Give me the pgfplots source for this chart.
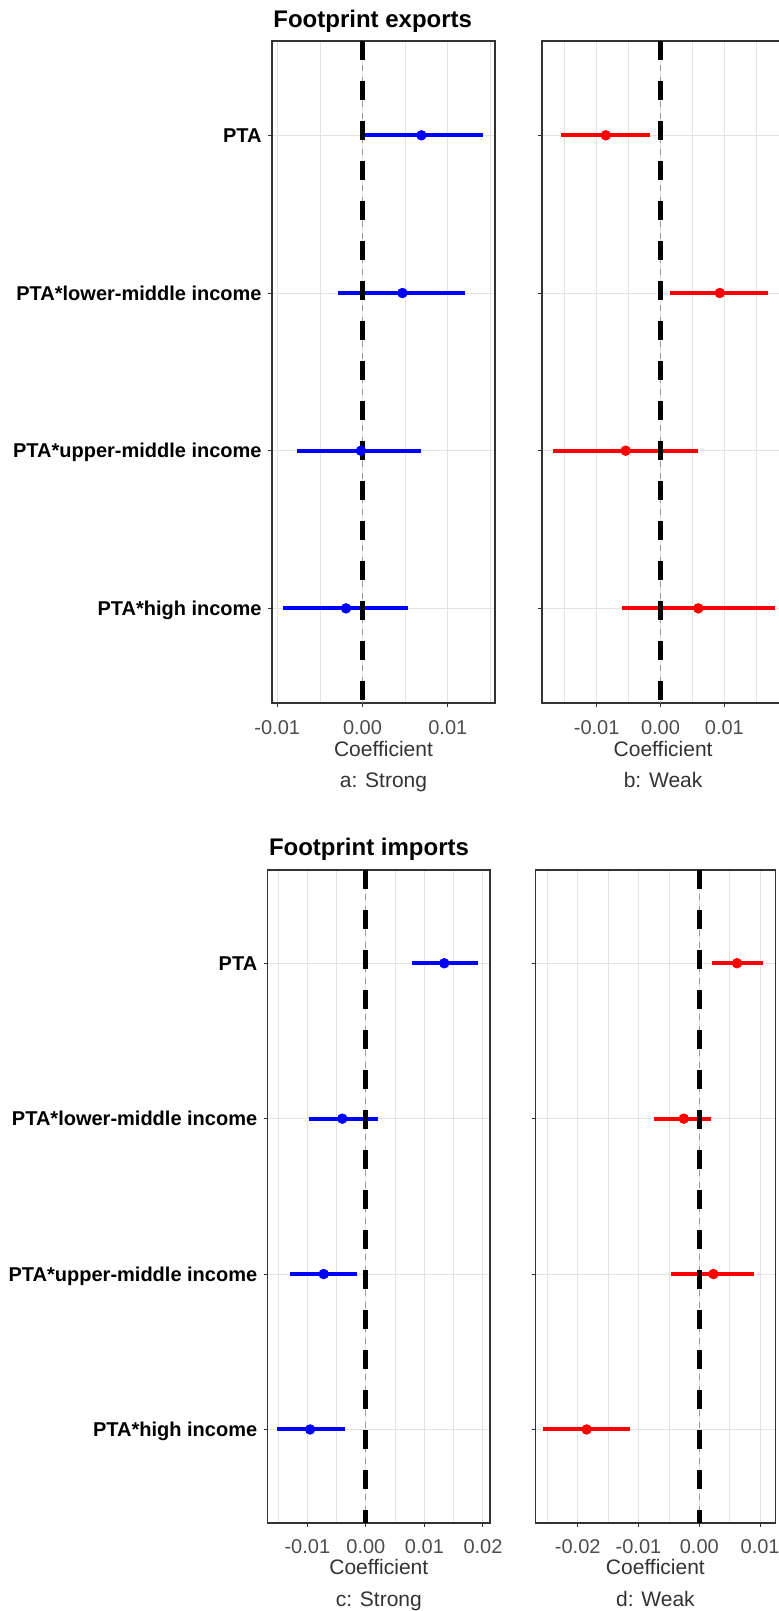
\documentclass[border=0pt]{standalone}
\usepackage{fontspec}
\setmainfont{Liberation Sans}
\usepackage{pgfplots}
\pgfplotsset{compat=1.18}
\definecolor{tickgray}{HTML}{4D4D4D}
\definecolor{framegray}{HTML}{333333}
\definecolor{gridgray}{HTML}{E3E3E3}
\definecolor{zgray}{HTML}{9A9A9A}

\pgfplotsset{
 coef/.style={
  scale only axis, anchor=north west,
  scaled x ticks=false,
  ymin=0.4, ymax=4.6, ytick={1,2,3,4},
  xmajorgrids, xminorgrids, ymajorgrids,
  major grid style={draw=gridgray, line width=0.5pt},
  minor grid style={draw=gridgray, line width=0.35pt},
  axis line style={draw=framegray, line width=0.8pt},
  tick style={draw=framegray, line width=0.5pt},
  tick align=outside, major tick length=2pt, minor tick length=0pt,
  xtick pos=bottom, ytick pos=left,
  xticklabel style={font=\fontsize{10}{12}\selectfont, text=tickgray, anchor=base, inner sep=0pt, yshift=-13.5pt},
  yticklabel style={font=\bfseries\fontsize{10}{12}\selectfont, text=black, anchor=east, inner sep=0pt, xshift=-3pt, text height=7.2pt, text depth=0pt},
  clip=true,
 },
 zeroline/.style={black, line width=2.5pt, dash pattern=on 9.5pt off 10.5pt},
 zerothin/.style={zgray, line width=0.5pt, dash pattern=on 3pt off 3pt},
 cib/.style={blue, line width=2pt},
 cir/.style={red, line width=2pt},
 ptb/.style={only marks, mark=*, mark size=2.4pt, mark options={draw=blue, fill=blue}},
 ptr/.style={only marks, mark=*, mark size=2.4pt, mark options={draw=red, fill=red}},
}

\begin{document}
\begin{tikzpicture}
\path[use as bounding box, clip] (0pt,0pt) rectangle (389.5pt,-805.5pt);

% ---------------- a: Strong (exports)
\begin{axis}[coef, at={(136pt,-20.35pt)}, width=111.5pt, height=331.15pt,
  xmin=-0.01061, xmax=0.01553,
  xtick={-0.01,0,0.01}, xticklabels={-0.01,0.00,0.01},
  minor xtick={-0.005,0.005,0.015},
  yticklabels={PTA*high income,PTA*upper-middle income,PTA*lower-middle income,PTA}]
\addplot[cib] coordinates {(0.0000,4) (0.01415,4)};
\addplot[cib] coordinates {(-0.00292,3) (0.01205,3)};
\addplot[cib] coordinates {(-0.00772,2) (0.0069,2)};
\addplot[cib] coordinates {(-0.00936,1) (0.00538,1)};
\addplot[zerothin] coordinates {(0,4.6) (0,0.4)};
\addplot[zeroline] coordinates {(0,4.6) (0,0.4)};
\addplot[ptb] coordinates {(0.0069,4) (0.00468,3) (-0.00018,2) (-0.00193,1)};
\end{axis}

% ---------------- b: Weak (exports)
\begin{axis}[coef, at={(271.1pt,-20.35pt)}, width=120.9pt, height=331.15pt,
  xmin=-0.018528, xmax=0.019342,
  xtick={-0.01,0,0.01}, xticklabels={-0.01,0.00,0.01},
  minor xtick={-0.015,-0.005,0.005,0.015},
  yticklabels={}]
\addplot[cir] coordinates {(-0.01559,4) (-0.00164,4)};
\addplot[cir] coordinates {(0.00148,3) (0.01691,3)};
\addplot[cir] coordinates {(-0.01676,2) (0.00592,2)};
\addplot[cir] coordinates {(-0.00608,1) (0.01793,1)};
\addplot[zerothin] coordinates {(0,4.6) (0,0.4)};
\addplot[zeroline] coordinates {(0,4.6) (0,0.4)};
\addplot[ptr] coordinates {(-0.00857,4) (0.00928,3) (-0.00546,2) (0.00592,1)};
\end{axis}

% ---------------- c: Strong (imports)
\begin{axis}[coef, at={(133.8pt,-435pt)}, width=111.2pt, height=326.35pt,
  xmin=-0.016795, xmax=0.021203,
  xtick={-0.01,0,0.01,0.02}, xticklabels={-0.01,0.00,0.01,0.02},
  minor xtick={-0.015,-0.005,0.005,0.015},
  yticklabels={PTA*high income,PTA*upper-middle income,PTA*lower-middle income,PTA}]
\addplot[cib] coordinates {(0.0078,4) (0.01914,4)};
\addplot[cib] coordinates {(-0.00979,3) (0.00215,3)};
\addplot[cib] coordinates {(-0.01296,2) (-0.00146,2)};
\addplot[cib] coordinates {(-0.0152,1) (-0.0036,1)};
\addplot[zerothin] coordinates {(0,4.6) (0,0.4)};
\addplot[zeroline] coordinates {(0,4.6) (0,0.4)};
\addplot[ptb] coordinates {(0.01339,4) (-0.00403,3) (-0.00721,2) (-0.00953,1)};
\end{axis}

% ---------------- d: Weak (imports)
\begin{axis}[coef, at={(267.75pt,-435pt)}, width=119.9pt, height=326.35pt,
  xmin=-0.026941, xmax=0.0125,
  xtick={-0.02,-0.01,0,0.01}, xticklabels={-0.02,-0.01,0.00,0.01},
  minor xtick={-0.025,-0.015,-0.005,0.005},
  yticklabels={}]
\addplot[cir] coordinates {(0.0021,4) (0.0105,4)};
\addplot[cir] coordinates {(-0.00744,3) (0.00199,3)};
\addplot[cir] coordinates {(-0.00463,2) (0.00902,2)};
\addplot[cir] coordinates {(-0.02572,1) (-0.01141,1)};
\addplot[zerothin] coordinates {(0,4.6) (0,0.4)};
\addplot[zeroline] coordinates {(0,4.6) (0,0.4)};
\addplot[ptr] coordinates {(0.0062,4) (-0.00256,3) (0.00232,2) (-0.01853,1)};
\end{axis}

% ---------------- titles and labels
\node[anchor=base west, inner sep=0pt, font=\bfseries\fontsize{12}{14}\selectfont] at (136.5pt,-13.9pt) {Footprint exports};
\node[anchor=base west, inner sep=0pt, font=\bfseries\fontsize{12}{14}\selectfont] at (134.3pt,-427.5pt) {Footprint imports};

\begin{scope}[every node/.style={anchor=base, inner sep=0pt, text=framegray, font=\fontsize{10.5}{12}\selectfont}]
\node at (191.75pt,-378pt) {Coefficient};
\node at (331.55pt,-378pt) {Coefficient};
\node at (191.75pt,-393.7pt) {a: Strong};
\node at (331.55pt,-393.7pt) {b: Weak};
\node at (189.4pt,-787pt) {Coefficient};
\node at (327.7pt,-787pt) {Coefficient};
\node at (189.4pt,-803pt) {c: Strong};
\node at (327.7pt,-803pt) {d: Weak};
\end{scope}
\end{tikzpicture}
\end{document}
